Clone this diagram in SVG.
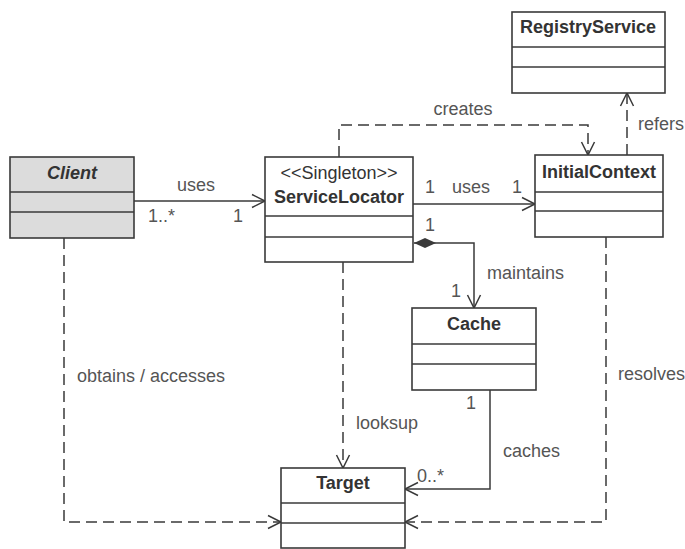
<svg xmlns="http://www.w3.org/2000/svg" width="685" height="549" viewBox="0 0 685 549">
  <style>
    .box { fill: #ffffff; stroke: #3a3a3a; stroke-width: 1.6; }
    .box.shaded { fill: #dcdcdc; }
    .div { stroke: #3a3a3a; stroke-width: 1.4; }
    .name { font-family: "Liberation Sans", Arial, sans-serif; font-size: 18px; font-weight: bold; fill: #333333; text-anchor: middle; }
    .stereo { font-family: "Liberation Sans", Arial, sans-serif; font-size: 18px; fill: #333333; text-anchor: middle; }
    .lbl { font-family: "Liberation Sans", Arial, sans-serif; font-size: 18px; fill: #555555; }
    .edge { fill: none; stroke: #3a3a3a; stroke-width: 1.5; }
    .dash { stroke-dasharray: 11 6; }
  </style>
  <defs>
    <marker id="open" markerUnits="userSpaceOnUse" markerWidth="16" markerHeight="16" viewBox="-14 -8 16 16" refX="0" refY="0" orient="auto">
      <path d="M-13,-6.5 L0,0 L-13,6.5" fill="none" stroke="#3a3a3a" stroke-width="1.5"/>
    </marker>
    <marker id="diamond" markerUnits="userSpaceOnUse" markerWidth="26" markerHeight="12" viewBox="0 -6 26 12" refX="0" refY="0" orient="auto">
      <path d="M0,0 L11,-5 L22,0 L11,5 Z" fill="#3a3a3a"/>
    </marker>
  </defs>

  <!-- connectors -->
  <g id="connectors">
    <!-- Client uses ServiceLocator -->
    <path class="edge" d="M134,201 H265" marker-end="url(#open)"/>
    <!-- ServiceLocator uses InitialContext -->
    <path class="edge" d="M413,204 H535" marker-end="url(#open)"/>
    <!-- ServiceLocator maintains Cache (composition) -->
    <path class="edge" d="M414,243 H474 V308" marker-start="url(#diamond)" marker-end="url(#open)"/>
    <!-- ServiceLocator creates InitialContext -->
    <path class="edge dash" d="M339,157 V125 H588 V155" marker-end="url(#open)"/>
    <!-- InitialContext refers RegistryService -->
    <path class="edge dash" d="M627,155 V93" marker-end="url(#open)"/>
    <!-- ServiceLocator looksup Target -->
    <path class="edge dash" d="M343,262 V468" marker-end="url(#open)"/>
    <!-- Cache caches Target -->
    <path class="edge" d="M490,390 V489 H405" marker-end="url(#open)"/>
    <!-- InitialContext resolves Target -->
    <path class="edge dash" d="M606,237 V522 H405" marker-end="url(#open)"/>
    <!-- Client obtains / accesses Target -->
    <path class="edge dash" d="M64,238 V522 H281" marker-end="url(#open)"/>

    <text class="lbl" x="196" y="191" text-anchor="middle">uses</text>
    <text class="lbl" x="148" y="222">1..*</text>
    <text class="lbl" x="233" y="222">1</text>
    <text class="lbl" x="425" y="193">1</text>
    <text class="lbl" x="471" y="193" text-anchor="middle">uses</text>
    <text class="lbl" x="512" y="193">1</text>
    <text class="lbl" x="425" y="231">1</text>
    <text class="lbl" x="463" y="115" text-anchor="middle">creates</text>
    <text class="lbl" x="638" y="130">refers</text>
    <text class="lbl" x="487" y="279">maintains</text>
    <text class="lbl" x="451" y="297">1</text>
    <text class="lbl" x="356" y="429">looksup</text>
    <text class="lbl" x="503" y="457">caches</text>
    <text class="lbl" x="466" y="409">1</text>
    <text class="lbl" x="417" y="482">0..*</text>
    <text class="lbl" x="618" y="380">resolves</text>
    <text class="lbl" x="77" y="382">obtains / accesses</text>
  </g>

  <g id="Client">
    <rect class="box shaded" x="10" y="157" width="124" height="81"/>
    <line class="div" x1="10" y1="192" x2="134" y2="192"/>
    <line class="div" x1="10" y1="212" x2="134" y2="212"/>
    <text class="name" x="72" y="179" font-style="italic">Client</text>
  </g>

  <g id="ServiceLocator">
    <rect class="box" x="265" y="157" width="148" height="105"/>
    <line class="div" x1="265" y1="216" x2="413" y2="216"/>
    <line class="div" x1="265" y1="237" x2="413" y2="237"/>
    <text class="stereo" x="339" y="179">&lt;&lt;Singleton&gt;&gt;</text>
    <text class="name" x="339" y="203">ServiceLocator</text>
  </g>

  <g id="InitialContext">
    <rect class="box" x="535" y="155" width="128" height="82"/>
    <line class="div" x1="535" y1="192" x2="663" y2="192"/>
    <line class="div" x1="535" y1="211" x2="663" y2="211"/>
    <text class="name" x="599" y="178">InitialContext</text>
  </g>

  <g id="RegistryService">
    <rect class="box" x="512" y="12" width="153" height="81"/>
    <line class="div" x1="512" y1="47" x2="665" y2="47"/>
    <line class="div" x1="512" y1="67" x2="665" y2="67"/>
    <text class="name" x="588" y="33">RegistryService</text>
  </g>

  <g id="Cache">
    <rect class="box" x="412" y="308" width="124" height="82"/>
    <line class="div" x1="412" y1="344" x2="536" y2="344"/>
    <line class="div" x1="412" y1="364" x2="536" y2="364"/>
    <text class="name" x="474" y="330">Cache</text>
  </g>

  <g id="Target">
    <rect class="box" x="281" y="468" width="124" height="80"/>
    <line class="div" x1="281" y1="503" x2="405" y2="503"/>
    <line class="div" x1="281" y1="523" x2="405" y2="523"/>
    <text class="name" x="343" y="489">Target</text>
  </g>
</svg>
